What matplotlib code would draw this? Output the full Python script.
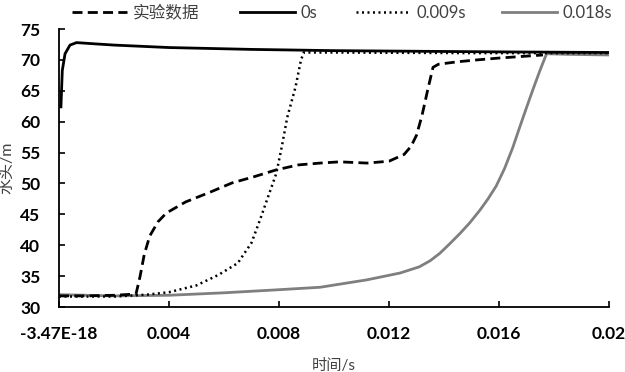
import matplotlib
import matplotlib.pyplot as plt

matplotlib.use("Agg")

plt.rcParams["font.family"] = ["Lato", "Noto Sans CJK SC", "DejaVu Sans"]
plt.rcParams["font.weight"] = "bold"
plt.rcParams["xtick.labelsize"] = 12.5
plt.rcParams["ytick.labelsize"] = 12.5

# experimental data (dashed)
exp_t = [0.0, 0.001, 0.002, 0.0028, 0.00295, 0.0031, 0.0033, 0.0036, 0.0039, 0.0046,
         0.0055, 0.0063, 0.0071, 0.0079, 0.0087, 0.0095, 0.0102, 0.0112, 0.0120, 0.01255,
         0.0128, 0.0130, 0.0132, 0.0134, 0.0136, 0.0138, 0.0145, 0.0152, 0.0160, 0.0176]
exp_v = [31.8, 31.8, 31.9, 32.1, 35.0, 38.5, 41.5, 43.8, 45.2, 47.0,
         48.6, 50.1, 51.1, 52.2, 53.0, 53.3, 53.5, 53.3, 53.6, 54.7,
         56.0, 57.8, 61.0, 65.0, 68.8, 69.3, 69.7, 70.0, 70.3, 70.8]

# 0s
s0_t = [0.00007, 0.00012, 0.00022, 0.0004, 0.00064, 0.0013, 0.002,
        0.004, 0.007, 0.010, 0.013, 0.016, 0.020]
s0_v = [62.4, 68.3, 71.0, 72.4, 72.8, 72.6, 72.4,
        72.0, 71.7, 71.5, 71.4, 71.3, 71.2]

# 0.009s
s9_t = [0.0, 0.002, 0.0032, 0.004, 0.005, 0.0058, 0.0065, 0.0070, 0.0073, 0.0076,
        0.0079, 0.0081, 0.0083, 0.0086, 0.0088, 0.0089, 0.010, 0.015, 0.020]
s9_v = [31.7, 31.7, 32.0, 32.4, 33.5, 35.2, 37.1, 40.4, 44.0, 47.8,
        51.6, 55.9, 60.7, 65.6, 70.0, 71.2, 71.2, 71.1, 71.1]

# 0.018s
s18_t = [0.0, 0.002, 0.004, 0.006, 0.008, 0.0095, 0.0112, 0.0124, 0.0131, 0.0135,
         0.01385, 0.0142, 0.01458, 0.01495, 0.01531, 0.0156, 0.0159, 0.0162,
         0.0165, 0.01676, 0.01701, 0.01725, 0.01749, 0.01773, 0.0185, 0.020]
s18_v = [32.0, 31.8, 31.9, 32.3, 32.8, 33.2, 34.4, 35.5, 36.5, 37.5,
         38.7, 40.2, 41.9, 43.7, 45.7, 47.5, 49.6, 52.4,
         55.8, 59.2, 62.4, 65.4, 68.3, 71.0, 70.9, 70.8]

x_ticks = [0.0, 0.004, 0.008, 0.012, 0.016, 0.02]
x_labels = ["-3.47E-18", "0.004", "0.008", "0.012", "0.016", "0.02"]
y_ticks = [30, 35, 40, 45, 50, 55, 60, 65, 70, 75]

# legend entry left edges in figure fraction
legend_x = [72 / 625, 240 / 625, 356 / 625, 502 / 625]

fig = plt.figure(figsize=(6.25, 3.72), dpi=100)
ax = fig.add_axes([0.0944, 0.1747, 0.88, 0.7473])

lines = []
lines += ax.plot(exp_t, exp_v, color="black", lw=2.0, ls=(0, (3.6, 1.9)), label="实验数据", zorder=3)
lines += ax.plot(s0_t, s0_v, color="black", lw=2.0, label="0s", zorder=4)
lines += ax.plot(s9_t, s9_v, color="black", lw=1.8, ls=(0, (0.8, 1.4)), label="0.009s", zorder=3)
lines += ax.plot(s18_t, s18_v, color="#7f7f7f", lw=2.0, label="0.018s", zorder=2)

ax.set_xlim(0, 0.02)
ax.set_ylim(30, 75)
ax.set_xticks(x_ticks, x_labels)
ax.set_yticks(y_ticks, [str(v) for v in y_ticks])

for side in ["top", "right"]:
    ax.spines[side].set_visible(False)
for side in ["left", "bottom"]:
    ax.spines[side].set_linewidth(1.3)
    ax.spines[side].set_color("black")

ax.tick_params(axis="both", direction="in", length=4, width=1.2)
ax.tick_params(axis="y", pad=13.5)
ax.tick_params(axis="x", pad=14)

ax.set_xlabel("时间/s", fontsize=11, fontweight="normal", color="#404040", labelpad=12)
ax.set_ylabel("水头/m", fontsize=11.5, fontweight="normal", color="#404040", labelpad=4)

for ln, lx in zip(lines, legend_x):
    fig.legend(handles=[ln], loc="center left", bbox_to_anchor=(lx, 1 - 13 / 372),
               frameon=False, prop={"size": 12, "weight": "normal"}, handlelength=3.3,
               handletextpad=0.35, borderpad=0, borderaxespad=0, labelcolor="#404040")

fig.savefig("out.png", dpi=100)
plt.close(fig)
